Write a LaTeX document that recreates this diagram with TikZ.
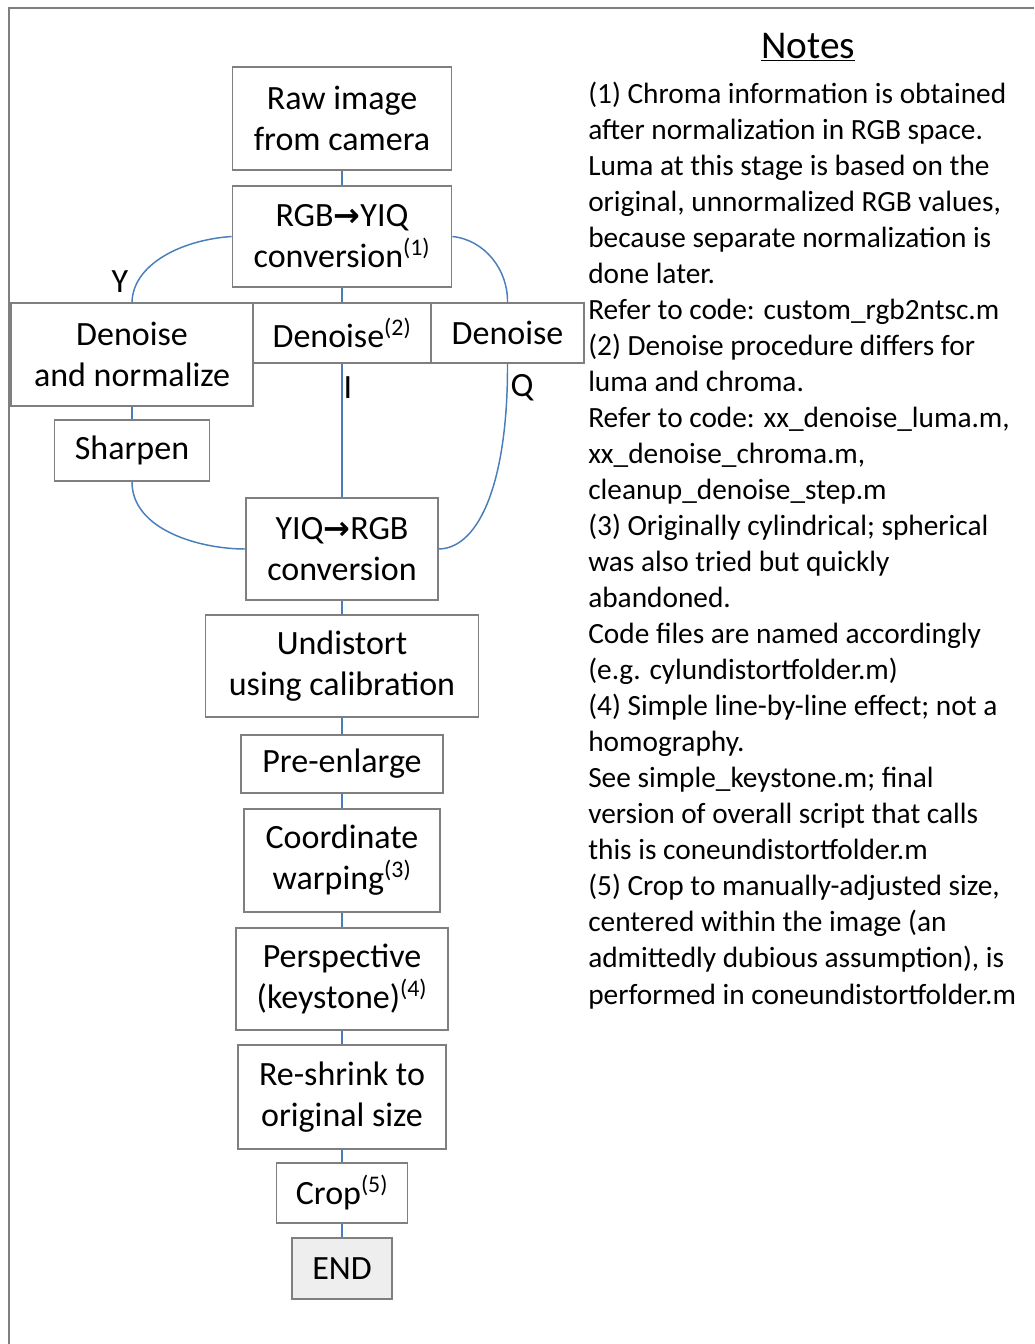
\documentclass[tikz,border=0pt]{standalone}
\usepackage{fontspec}
\setmainfont{Carlito}
\newfontfamily\arrowfont{DejaVu Sans}
\usepackage{xcolor}
\usepackage{tikz}

\definecolor{linkblue}{HTML}{4A7EBB}
\definecolor{boxgray}{HTML}{7F7F7F}
\definecolor{endgray}{HTML}{EEEEEE}
\newcommand{\boxfont}{\fontsize{25.5}{30.75}\selectfont}
\newcommand{\notefont}{\fontsize{22}{27.03}\selectfont}
\newcommand{\titlefont}{\fontsize{29.5}{34}\selectfont}
\newcommand{\toarrow}{{\arrowfont\bfseries\fontsize{24}{24}\selectfont →}}
\newcommand{\nref}[1]{\textsuperscript{(#1)}}

\begin{document}
\begin{tikzpicture}[x=0.75pt, y=-0.75pt,
    box/.style={draw=boxgray, line width=1.4pt, fill=white, inner sep=0pt,
      align=center, font=\boxfont},
    link/.style={draw=linkblue, line width=1.1pt},
    lbl/.style={font=\boxfont, inner sep=0pt}]
  \useasboundingbox (0,0) rectangle (1034,1344);
  \draw[boxgray, line width=2.2pt] (1034,8) -- (9,8) -- (9,1344);

  \node (raw) [box, minimum width=164.25pt, minimum height=77.25pt]
    at (342,118.5) {Raw image\\from camera};
  \node (toyiq) [box, minimum width=164.25pt, minimum height=75.75pt]
    at (342,236.5) {RGB\toarrow YIQ\\conversion\nref{1}};
  \node (dnY) [box, minimum width=181.5pt, minimum height=77.25pt]
    at (132,354.5) {Denoise\\and normalize};
  \node (dnI) [box, minimum width=133.5pt, minimum height=45pt]
    at (342,333) {Denoise\nref{2}};
  \node (dnQ) [box, minimum width=114.75pt, minimum height=45pt]
    at (507.5,333) {Denoise};
  \node (sharp) [box, minimum width=116.25pt, minimum height=45.75pt]
    at (132,450.5) {Sharpen};
  \node (torgb) [box, minimum width=144pt, minimum height=76.5pt]
    at (342,549) {YIQ\toarrow RGB\\conversion};
  \node (undist) [box, minimum width=204.75pt, minimum height=76.5pt]
    at (342,666) {Undistort\\using calibration};
  \node (preenl) [box, minimum width=151.5pt, minimum height=43.5pt]
    at (342,764) {Pre-enlarge};
  \node (warp) [box, minimum width=147pt, minimum height=77.25pt]
    at (342,860.5) {Coordinate\\warping\nref{3}};
  \node (persp) [box, minimum width=159pt, minimum height=76.5pt]
    at (342,979) {Perspective\\(keystone)\nref{4}};
  \node (shrink) [box, minimum width=156pt, minimum height=78pt]
    at (342,1097) {Re-shrink to\\original size};
  \node (crop) [box, minimum width=98.25pt, minimum height=45pt]
    at (342,1193) {Crop\nref{5}};
  \node (fin) [box, fill=endgray, minimum width=75pt, minimum height=45.75pt]
    at (342,1268.5) {END};

  \draw[link] (raw) -- (toyiq);
  \draw[link] (toyiq) -- (dnI);
  \draw[link] (toyiq.west) .. controls (180,240) and (133,265) .. (dnY.north);
  \draw[link] (toyiq.east) .. controls (485,240) and (508,270) .. (dnQ.north);
  \draw[link] (dnI) -- (torgb);
  \draw[link] (dnQ.south) .. controls (508,480) and (480,548) .. (torgb.east);
  \draw[link] (dnY) -- (sharp);
  \draw[link] (sharp.south) .. controls (132,530) and (200,549) .. (torgb.west);
  \foreach \a/\b in {torgb/undist, undist/preenl, preenl/warp, warp/persp,
      persp/shrink, shrink/crop, crop/fin}
    \draw[link] (\a) -- (\b);

  \node (ylab) [lbl] at (120,282) {Y};
  \node (ilab) [lbl] at (348,388) {I};
  \node (qlab) [lbl] at (522,388) {Q};

  \node (title) [font=\titlefont] at (808,47) {\underline{Notes}};
  \node (notes) [anchor=base west, align=left, inner sep=0pt, font=\notefont]
    at (588,1004) {(1) Chroma information is obtained\\
    after normalization in RGB space.\\
    Luma at this stage is based on the\\
    original, unnormalized RGB values,\\
    because separate normalization is\\
    done later.\\
    Refer to code: custom\_rgb2ntsc.m\\
    (2) Denoise procedure differs for\\
    luma and chroma.\\
    Refer to code: xx\_denoise\_luma.m,\\
    xx\_denoise\_chroma.m,\\
    cleanup\_denoise\_step.m\\
    (3) Originally cylindrical; spherical\\
    was also tried but quickly\\
    abandoned.\\
    Code files are named accordingly\\
    (e.g. cylundistortfolder.m)\\
    (4) Simple line-by-line effect; not a\\
    homography.\\
    See simple\_keystone.m; final\\
    version of overall script that calls\\
    this is coneundistortfolder.m\\
    (5) Crop to manually-adjusted size,\\
    centered within the image (an\\
    admittedly dubious assumption), is\\
    performed in coneundistortfolder.m};
\end{tikzpicture}
\end{document}
